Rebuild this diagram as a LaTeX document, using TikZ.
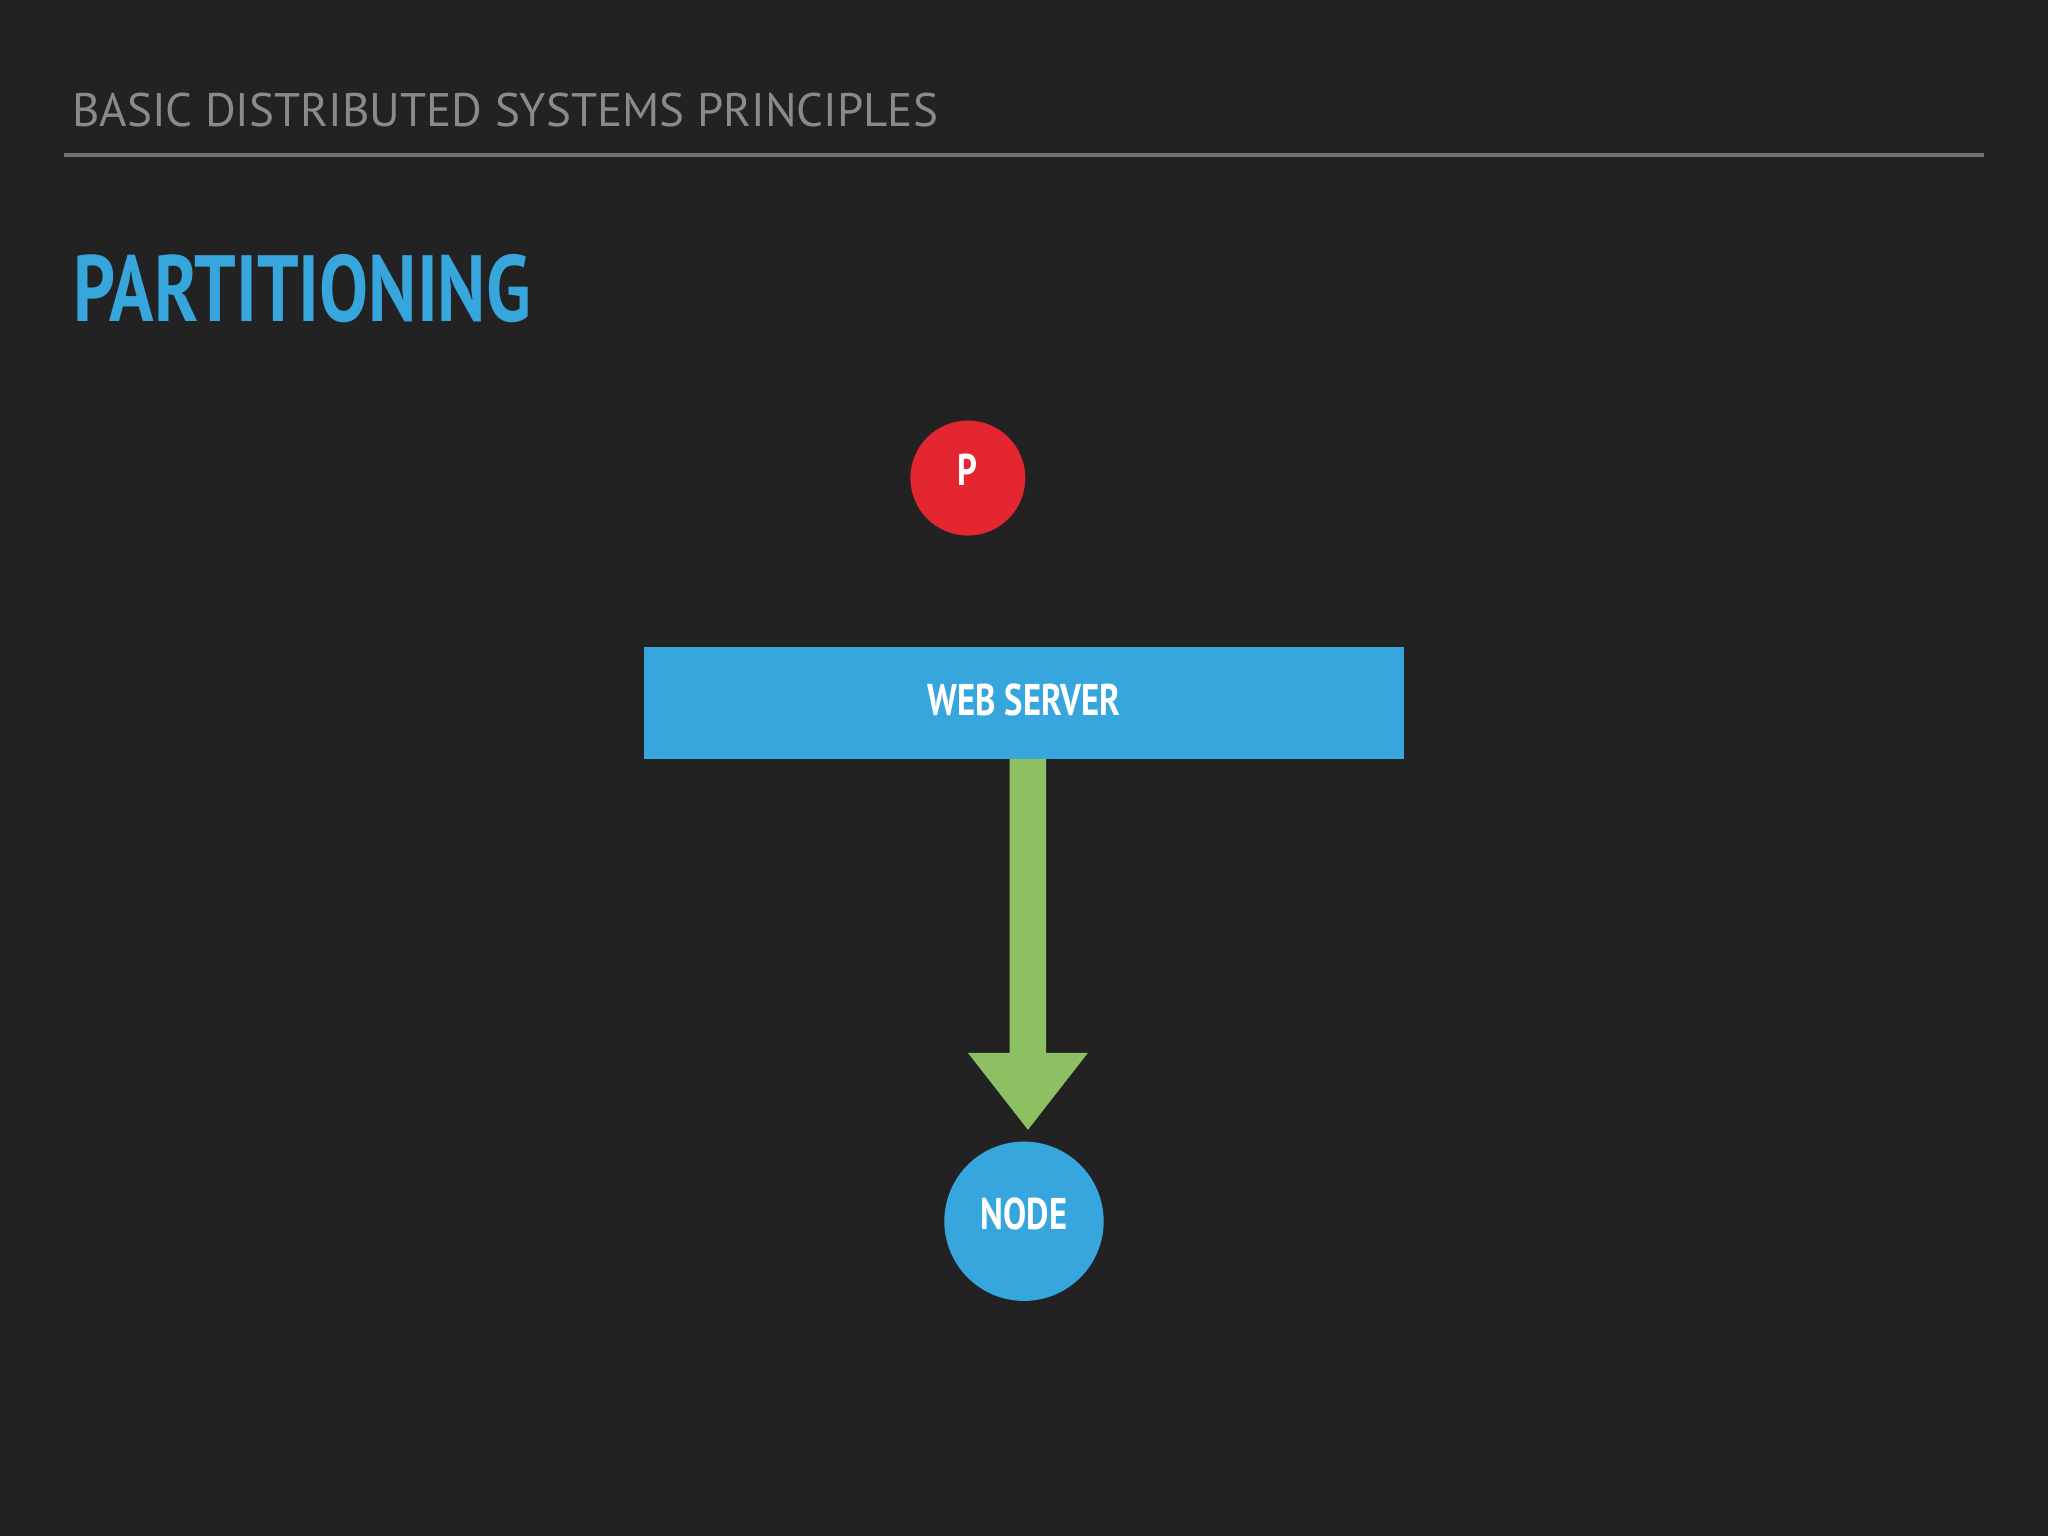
\documentclass[tikz,border=0pt]{standalone}
\usepackage{fontspec}
\setmainfont{PT Sans}
\begin{document}
\begin{tikzpicture}[x=1pt,y=-1pt,
  lbl/.style={text=white,font=\bfseries\fontsize{34}{34}\selectfont,xscale=0.78,inner sep=0},
]
\definecolor{bg}{HTML}{222223}
\definecolor{hdr}{HTML}{8A8A8A}
\definecolor{blu}{HTML}{36A6DC}
\definecolor{rd}{HTML}{E3262F}
\definecolor{grn}{HTML}{8DC063}
\fill[bg] (0,0) rectangle (1568,1176);
\useasboundingbox (0,0) rectangle (1568,1176);
\node[anchor=base west,inner sep=0,text=hdr,font=\fontsize{36}{36}\selectfont] (hdr) at (55,97) {BASIC DISTRIBUTED SYSTEMS PRINCIPLES};
\draw[line width=3pt,color=hdr!120] (49,119) -- (1519,119);
\node[anchor=base west,inner sep=0,text=blu,font=\bfseries\fontsize{72}{72}\selectfont,xscale=0.78] (title) at (56,246) {PARTITIONING};
\node[circle,fill=rd,minimum size=88pt,inner sep=0] (p) at (741,366) {};
\node[lbl,anchor=base] at (741,372) {P};
\node[fill=blu,minimum width=582pt,minimum height=86pt,inner sep=0] (ws) at (784,538) {};
\node[lbl,anchor=base] at (784,548) {WEB SERVER};
\node[circle,fill=blu,minimum size=122pt,inner sep=0] (nd) at (784,935) {};
\node[lbl,anchor=base] at (784,941) {NODE};
\coordinate (tip) at (787,865);
\fill[grn] (ws.south -| 773,0) -- (801,581) -- (801,806) -- (833,806) -- (tip) -- (741,806) -- (773,806) -- cycle;
\end{tikzpicture}
\end{document}
